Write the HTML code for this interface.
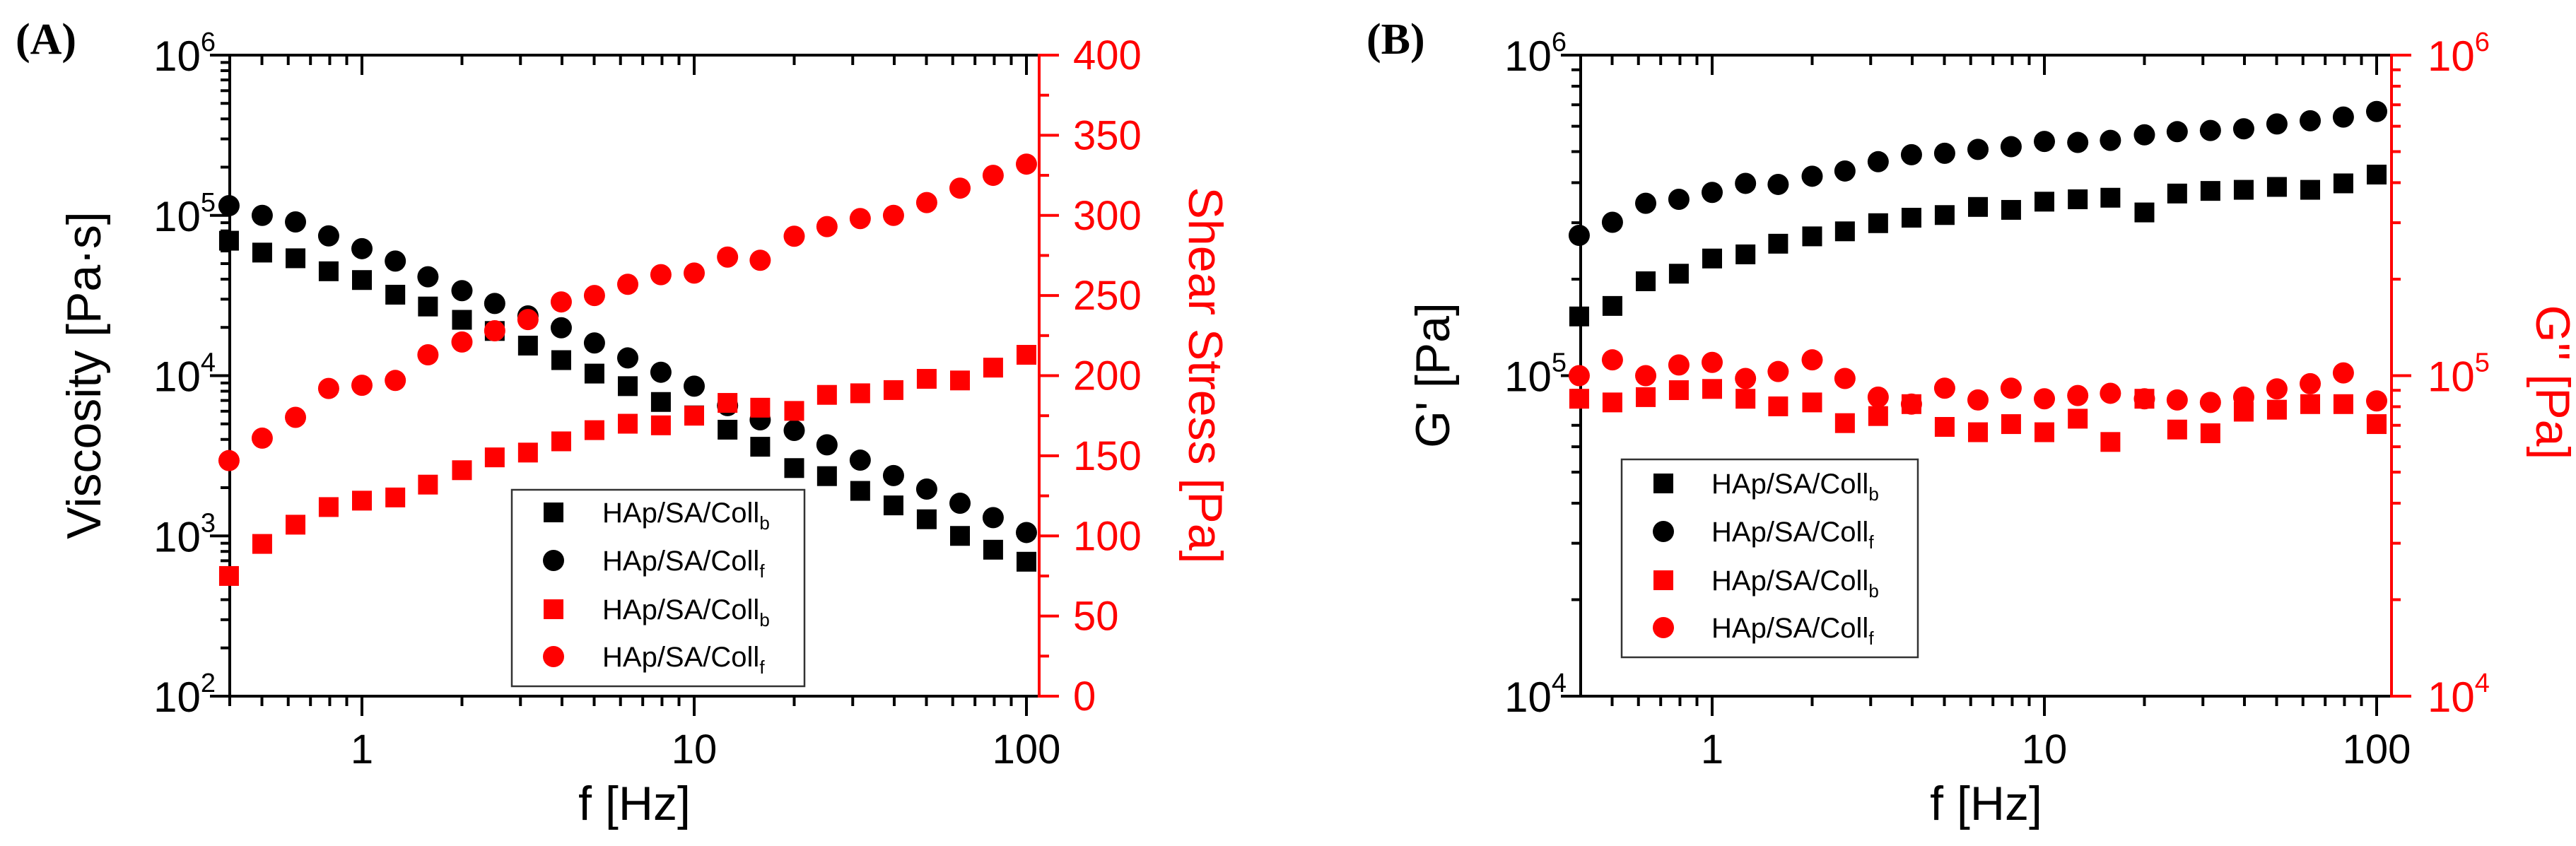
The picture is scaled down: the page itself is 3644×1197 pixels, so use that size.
<!DOCTYPE html>
<html><head><meta charset="utf-8"><style>
html,body{margin:0;padding:0;background:#fff;}
svg{display:block;font-family:"Liberation Sans",Arial,sans-serif;}
</style></head><body>
<svg id="fig" width="3644" height="1197" viewBox="0 0 3644 1197" xmlns="http://www.w3.org/2000/svg">
<rect width="3644" height="1197" fill="#fff"/>
<g id="panelA"></g>
<g id="panelB"></g>
</svg>
<script>
const freqs = [0.398,0.501,0.631,0.794,1,1.26,1.58,2,2.51,3.16,3.98,5.01,6.31,7.94,10,12.6,15.8,20,25.1,31.6,39.8,50.1,63.1,79.4,100];
const viscB = [69500,58600,54000,44800,39500,32000,27000,22300,19000,15400,12500,10300,8600,6850,5650,4600,3600,2650,2360,1910,1550,1270,1000,820,690];
const viscF = [115000,100000,91000,74500,62000,51900,41400,33900,28200,23600,19900,16000,12900,10500,8600,6500,5300,4550,3700,2970,2380,1960,1600,1300,1050];
const stressB = [75,95,107,118,122,124,132,141,149,152,159,166,170,169,175,183,180,178,188,189,191,198,197,205,213];
const stressF = [147,161,174,192,194,197,213,221,228,235,246,250,257,263,264,274,272,287,293,298,300,308,317,325,332];
const gpB = [153000,165000,197000,208000,232000,239000,258000,272000,282000,299000,311000,317000,336000,329000,349000,355000,359000,323000,370000,377000,380000,388000,380000,398000,424000];
const gpF = [274000,301000,345000,355000,373000,398000,395000,419000,435000,465000,489000,494000,508000,518000,538000,534000,542000,564000,577000,582000,589000,610000,624000,641000,667000];
const gppB = [84700,82500,85700,90100,90900,84700,80200,82500,71100,74800,81500,69200,66600,70600,66600,73400,62100,84700,67900,66100,77200,78300,81500,81500,70600];
const gppF = [100000,112000,100000,108000,110000,98000,103000,112000,98000,85700,81500,91400,84000,91400,84700,86700,88100,84700,84000,82500,85700,90900,94400,102000,83400];
const xTickLabels = ["1","10","100"];
const stressTicks = [0,50,100,150,200,250,300,350,400];

const NS="http://www.w3.org/2000/svg";
function el(tag, attrs, parent, txt){
  const e=document.createElementNS(NS,tag);
  for(const k in attrs) e.setAttribute(k,attrs[k]);
  if(txt!==undefined) e.textContent=txt;
  parent.appendChild(e); return e;
}
function line(p,x1,y1,x2,y2,c,w,name){
  const l=el('line',{x1:x1,y1:y1,x2:x2,y2:y2,stroke:c,'stroke-width':w},p);
  
  
  return l;
}
function powLabel(p,x,y,exp,color,anchor,name){
  const t=el('text',{x:x,y:y,'font-size':60,fill:color,'text-anchor':anchor},p);
  
  
  el('tspan',{},t,'10');
  el('tspan',{dy:-28,'font-size':38},t,String(exp));
  return t;
}
function marker(p,shape,cx,cy,color,name){
  let m;
  if(shape==='sq') m=el('rect',{x:cx-14,y:cy-14,width:28,height:28,fill:color},p);
  else m=el('circle',{cx:cx,cy:cy,r:15,fill:color},p);
  
  
  return m;
}
function legendLabel(p,x,y,sub,name){
  const t=el('text',{x:x,y:y,'font-size':40,fill:'#000'},p);
  
  
  el('tspan',{},t,'HAp/SA/Coll');
  el('tspan',{dy:10,'font-size':26},t,sub);
  return t;
}

function drawPanel(g, o){
  const L=o.L,R=o.R,T=78,B=985;
  const xs=f=>o.x1+470*Math.log10(f);
  const yl=o.yl, yr=o.yr;
  // x minor/major ticks (top inward, bottom outward)
  for(let d=-1;d<=2;d++){
    for(let m=1;m<=9;m++){
      const f=m*Math.pow(10,d), x=xs(f);
      if(x<L-0.5||x>R-2) continue;
      const major=(m===1), len=major?28:14;
      line(g,x,B,x,B+len,'#000',4,major?'x-major-tick':'x-minor-tick');
      line(g,x,T,x,T+len,'#000',4,major?'x-top-major-tick':'x-top-minor-tick');
    }
  }
  xTickLabels.forEach(s=>{
    const t=el('text',{x:xs(+s),y:1080,'font-size':58,'text-anchor':'middle',fill:'#000'},g,s);
    
    
  });
  // left log axis
  for(let e=o.lmin;e<o.lmax;e++){
    for(let m=2;m<=9;m++){
      const y=yl(m*Math.pow(10,e));
      line(g,L-13,y,L,y,'#000',4,'y-left-minor-tick');
    }
  }
  for(let e=o.lmin;e<=o.lmax;e++){
    const y=yl(Math.pow(10,e));
    line(g,L-28,y,L,y,'#000',4,'y-left-major-tick');
    powLabel(g,L-20,y+22,e,'#000','end','y-left-tick-label');
  }
  // right axis
  o.rightTicks(g);
  // frame
  line(g,L-28,T,R,T,'#000',4,'top-axis-line');
  line(g,L,T,L,B+2,'#000',4,'left-axis-line');
  line(g,L-2,B,R,B,'#000',4,'bottom-axis-line');
  line(g,R,T-2,R,B+2,'#f00',4,'right-axis-line');
  // data
  o.series.forEach(s=>{
    const sg=el('g',{},g);
    
    
    s.vals.forEach((v,i)=>marker(sg,s.shape,xs(freqs[i]),s.scale(v),s.color,s.pt));
  });
  // legend
  const lg=el('g',{},g);
  
  
  const bx=el('rect',{x:o.leg.x,y:o.leg.y,width:o.leg.w,height:o.leg.h,fill:'#fff',stroke:'#333','stroke-width':2.5},lg);
  
  
  const entries=[['sq','#000','b'],['ci','#000','f'],['sq','#f00','b'],['ci','#f00','f']];
  entries.forEach((en,i)=>{
    const cy=o.leg.rows[i];
    marker(lg,en[0],o.leg.mx,cy,en[1],'legend-marker');
    legendLabel(lg,o.leg.tx,cy+14,en[2],'legend-entry');
  });
  // titles
  const xt=el('text',{x:(L+R)/2+o.xtOff,y:1160,'font-size':68,'text-anchor':'middle',fill:'#000'},g,'f [Hz]');
  
  
  const lt=el('text',{x:0,y:0,'font-size':68,'text-anchor':'middle',fill:'#000',transform:`translate(${o.ltx},${o.lty}) rotate(-90)`},g,o.ltitle);
  
  
  const rt=el('text',{x:0,y:0,'font-size':68,'text-anchor':'middle',fill:'#f00',transform:`translate(${o.rtx},${o.rty}) rotate(90)`},g,o.rtitle);
  
  
  const pl=el('text',{x:o.plx,y:76,'font-size':62,'font-weight':'bold','font-family':'"Liberation Serif",serif',fill:'#000'},g,o.plabel);
  
  
}

// Panel A
(function(){
  const g=document.getElementById('panelA');
  const L=325,R=1470,T=78,B=985;
  const yl=v=>T+(6-Math.log10(v))*(B-T)/4;
  const yr=v=>B-v*(B-T)/400;
  drawPanel(g,{L:L,R:R,x1:512,lmin:2,lmax:6,yl:yl,yr:yr,
    rightTicks:(g)=>{
      for(let v=25;v<400;v+=50){const y=yr(v);line(g,R,y,R+14,y,'#f00',4,'y-right-minor-tick');}
      stressTicks.forEach(v=>{
        const y=yr(v);
        line(g,R,y,R+28,y,'#f00',4,'y-right-major-tick');
        const t=el('text',{x:1518,y:y+20,'font-size':58,fill:'#f00'},g,String(v));
        
        
      });
    },
    series:[
      {name:'series-viscosity-b',pt:'viscosity-b-point',vals:viscB,shape:'sq',color:'#000',scale:yl},
      {name:'series-viscosity-f',pt:'viscosity-f-point',vals:viscF,shape:'ci',color:'#000',scale:yl},
      {name:'series-stress-b',pt:'stress-b-point',vals:stressB,shape:'sq',color:'#f00',scale:yr},
      {name:'series-stress-f',pt:'stress-f-point',vals:stressF,shape:'ci',color:'#f00',scale:yr}
    ],
    leg:{x:724,y:693,w:414,h:278,mx:783,tx:852,rows:[725,793,862,929]},
    xtOff:0, ltitle:'Viscosity [Pa·s]', ltx:142, lty:531,
    rtitle:'Shear Stress [Pa]', rtx:1682, rty:531, plx:22, plabel:'(A)'});
})();

// Panel B
(function(){
  const g=document.getElementById('panelB');
  const L=2236,R=3383,T=78,B=985;
  const yl=v=>T+(6-Math.log10(v))*(B-T)/2;
  drawPanel(g,{L:L,R:R,x1:2422,lmin:4,lmax:6,yl:yl,yr:yl,
    rightTicks:(g)=>{
      for(let e=4;e<6;e++) for(let m=2;m<=9;m++){const y=yl(m*Math.pow(10,e));line(g,R,y,R+13,y,'#f00',4,'y-right-minor-tick');}
      for(let e=4;e<=6;e++){
        const y=yl(Math.pow(10,e));
        line(g,R,y,R+28,y,'#f00',4,'y-right-major-tick');
        powLabel(g,3434,y+22,e,'#f00','start','y-right-tick-label');
      }
    },
    series:[
      {name:'series-gprime-b',pt:'gprime-b-point',vals:gpB,shape:'sq',color:'#000',scale:yl},
      {name:'series-gprime-f',pt:'gprime-f-point',vals:gpF,shape:'ci',color:'#000',scale:yl},
      {name:'series-gdoubleprime-b',pt:'gdoubleprime-b-point',vals:gppB,shape:'sq',color:'#f00',scale:yl},
      {name:'series-gdoubleprime-f',pt:'gdoubleprime-f-point',vals:gppF,shape:'ci',color:'#f00',scale:yl}
    ],
    leg:{x:2294,y:650,w:419,h:280,mx:2353,tx:2421,rows:[684,752,821,888]},
    xtOff:0, ltitle:"G' [Pa]", ltx:2050, lty:531,
    rtitle:"G'' [Pa]", rtx:3588, rty:541, plx:1933, plabel:'(B)'});
})();
</script>
</body></html>
